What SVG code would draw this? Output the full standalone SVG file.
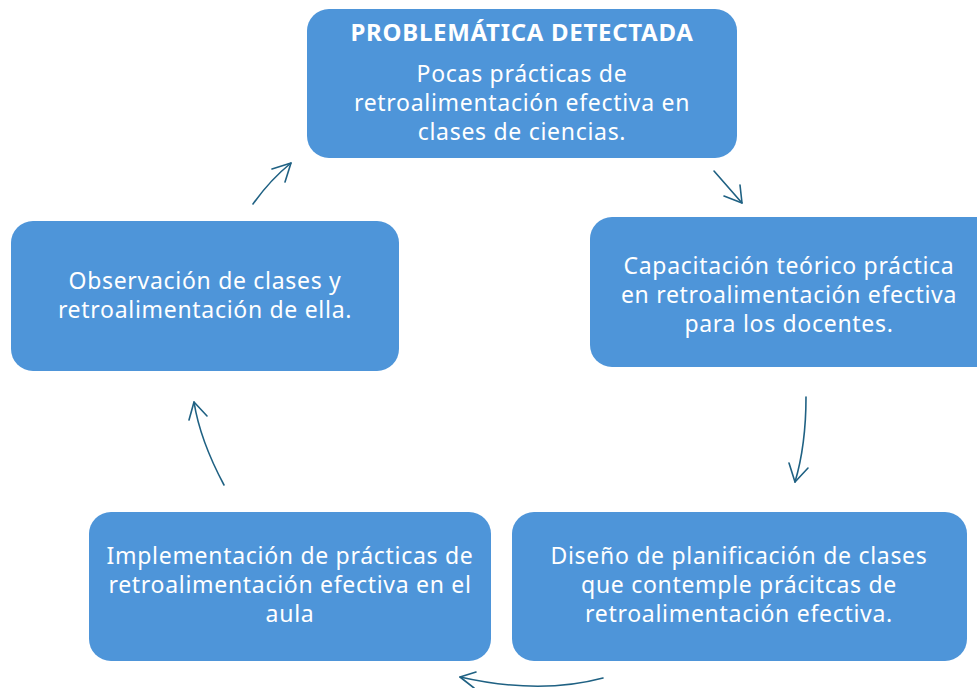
<svg xmlns="http://www.w3.org/2000/svg" width="977" height="688" viewBox="0 0 977 688">
<defs>
<style>
.box{fill:#4E95D9;}
.t{font-family:"Noto Sans","Open Sans","Liberation Sans",sans-serif;font-size:23px;letter-spacing:0.7px;fill:#ffffff;text-anchor:middle;}
.b{font-weight:bold;font-size:24px;}
.c{fill:none;stroke:#1F6183;stroke-width:1.6;stroke-linecap:round;stroke-linejoin:round;}
</style>
</defs>
<rect width="977" height="688" fill="#ffffff"/>
<g id="n1">
<rect class="box" x="307" y="9" width="430" height="149" rx="22"/>
<text class="t b" x="522" y="41">PROBLEMÁTICA DETECTADA</text>
<text class="t" x="522" y="82">Pocas prácticas de</text>
<text class="t" x="522" y="111">retroalimentación efectiva en</text>
<text class="t" x="522" y="140">clases de ciencias.</text>
</g>
<g id="n2">
<rect class="box" x="590" y="217" width="410" height="150" rx="22"/>
<text class="t" x="789" y="274">Capacitación teórico práctica</text>
<text class="t" x="789" y="303">en retroalimentación efectiva</text>
<text class="t" x="789" y="332">para los docentes.</text>
</g>
<g id="n3">
<rect class="box" x="512" y="512" width="455" height="149" rx="22"/>
<text class="t" x="739" y="564">Diseño de planificación de clases</text>
<text class="t" x="739" y="593">que contemple prácitcas de</text>
<text class="t" x="739" y="622">retroalimentación efectiva.</text>
</g>
<g id="n4">
<rect class="box" x="89" y="512" width="402" height="149" rx="22"/>
<text class="t" x="290" y="564">Implementación de prácticas de</text>
<text class="t" x="290" y="593">retroalimentación efectiva en el</text>
<text class="t" x="290" y="622">aula</text>
</g>
<g id="n5">
<rect class="box" x="11" y="221" width="388" height="150" rx="22"/>
<text class="t" x="205" y="289">Observación de clases y</text>
<text class="t" x="205" y="318">retroalimentación de ella.</text>
</g>
<g id="connectors">
<path class="c" d="M253,204 Q270,180 291,163"/>
<path class="c" d="M272,169 L291,163 L285,182"/>
<path class="c" d="M714,171 L742,203"/>
<path class="c" d="M740,185 L742,203 L724,196"/>
<path class="c" d="M806,397 Q806,445 795,482"/>
<path class="c" d="M789,463 L795,482 L808,468"/>
<path class="c" d="M603,678 Q540,695 460,677"/>
<path class="c" d="M476,672 L460,677 L474,688"/>
<path class="c" d="M224,485 Q200,440 194,402"/>
<path class="c" d="M189,420 L194,402 L207,416"/>
</g>
</svg>
